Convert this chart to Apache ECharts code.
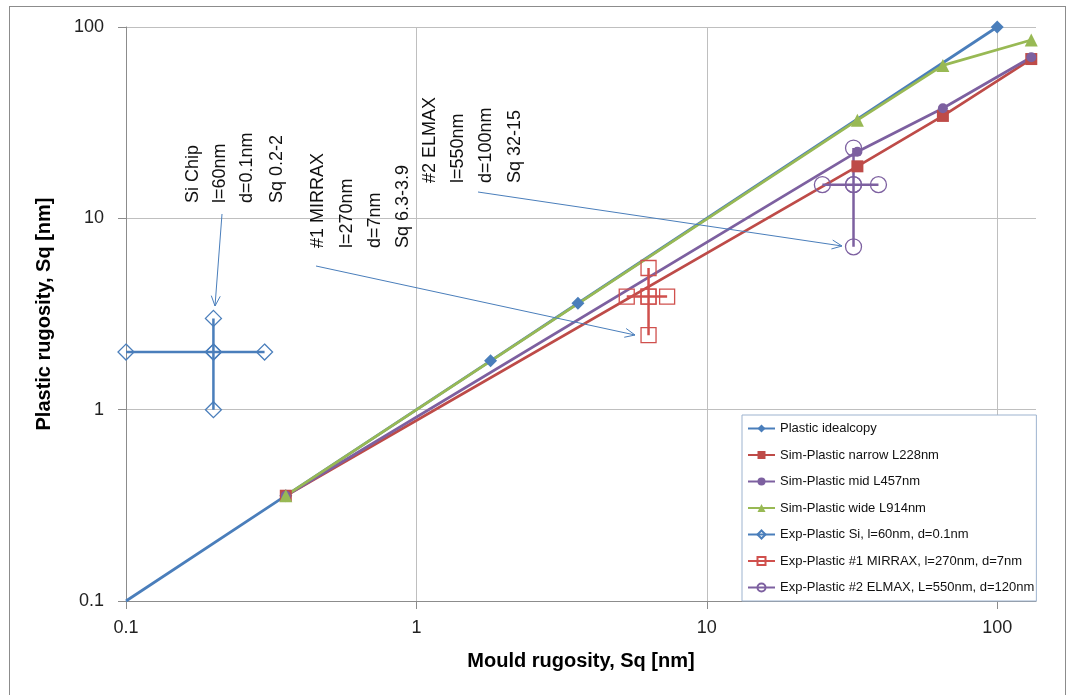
<!DOCTYPE html>
<html>
<head>
<meta charset="utf-8">
<script src="https://cdn.jsdelivr.net/npm/echarts@6/dist/echarts.min.js"></script>
<style>
	html, body { margin: 0; padding: 0; background: #fff; }
	#main { width: 1072px; height: 695px; }
	#frame { position: absolute; left: 9px; top: 6px; width: 1057px; height: 700px; border: 1px solid #8c8c8c; box-sizing: border-box; pointer-events: none; }
</style>
</head>
<body>
<div id="main"></div>
<div id="frame"></div>
<script>
	// 数据
	const idealX = [0.1, 0.355, 1.8, 3.6, 100]
	const idealY = [0.1, 0.355, 1.8, 3.6, 100]

	const simX = [0.355, 33, 65, 131]
	const narrowY = [0.355, 18.7, 34.3, 68]
	const midY = [0.355, 22.3, 37.6, 69.5]
	const wideY = [0.355, 32.6, 63, 85.5]

	// 实验点 (十字: 横向 + 纵向)
	const siHx = [0.1, 0.2, 0.3], siHy = [2, 2, 2]
	const siVx = [0.2, 0.2, 0.2], siVy = [1, 2, 3]
	const mirHx = [5.3, 6.3, 7.3], mirHy = [3.9, 3.9, 3.9]
	const mirVx = [6.3, 6.3, 6.3], mirVy = [2.45, 3.9, 5.5]
	const elmHx = [25, 32, 39], elmHy = [15, 15, 15]
	const elmVx = [32, 32, 32], elmVy = [7.1, 15, 23.3]

	const tickValues = [0.1, 1, 10, 100]

	const names = [
		'Plastic idealcopy',
		'Sim-Plastic narrow L228nm',
		'Sim-Plastic mid L457nm',
		'Sim-Plastic wide L914nm',
		'Exp-Plastic Si, l=60nm, d=0.1nm',
		'Exp-Plastic #1 MIRRAX, l=270nm, d=7nm',
		'Exp-Plastic #2 ELMAX, L=550nm, d=120nm'
	]

	const notes = [
		{ lines: ['Si Chip', 'l=60nm', 'd=0.1nm', 'Sq 0.2-2'], xs: [193, 220, 247, 277], bottom: 203 },
		{ lines: ['#1 MIRRAX', 'l=270nm', 'd=7nm', 'Sq 6.3-3.9'], xs: [318, 347, 375, 403], bottom: 248 },
		{ lines: ['#2 ELMAX', 'l=550nm', 'd=100nm', 'Sq 32-15'], xs: [430, 458, 486, 515], bottom: 183 }
	]
	const arrows = [
		[222, 214, 215, 306],
		[316, 266, 635, 335],
		[478, 192, 842, 246]
	]

	const zip = (xs, ys) => xs.map((x, i) => [x, ys[i]])

	const FONT = "'Liberation Sans', Arial, sans-serif"

	const lineSeries = (name, data, color, symbol, size) => ({
		name: name,
		type: 'line',
		data: data,
		symbol: symbol,
		symbolSize: size,
		showAllSymbol: true,
		lineStyle: { color: color, width: 2.75 },
		itemStyle: { color: color },
		emphasis: { disabled: true },
		clip: false
	})

	const expSeries = (name, data, color, symbol, size) => ({
		name: name,
		type: 'line',
		data: data,
		symbol: symbol,
		symbolSize: size,
		showAllSymbol: true,
		lineStyle: { color: color, width: 2.5 },
		itemStyle: { color: 'rgba(255,255,255,0)', borderColor: color, borderWidth: 1.3 },
		emphasis: { disabled: true },
		clip: false
	})

	const idealData = zip(idealX, idealY).map((p, i) => i === 0 ? { value: p, symbol: 'none' } : p)

	const series = [
		lineSeries(names[0], idealData, '#4a7ebb', 'diamond', 13),
		lineSeries(names[1], zip(simX, narrowY), '#be4b48', 'rect', 12),
		lineSeries(names[2], zip(simX, midY), '#7d60a0', 'circle', 10),
		lineSeries(names[3], zip(simX, wideY), '#98b954', 'triangle', 13),
		expSeries(names[4], zip(siHx, siHy), '#4a7ebb', 'diamond', 16),
		expSeries(names[4], zip(siVx, siVy), '#4a7ebb', 'diamond', 16),
		expSeries(names[5], zip(mirHx, mirHy), '#d0504d', 'rect', 15),
		expSeries(names[5], zip(mirVx, mirVy), '#d0504d', 'rect', 15),
		expSeries(names[6], zip(elmHx, elmHy), '#7d60a0', 'circle', 16),
		expSeries(names[6], zip(elmVx, elmVy), '#7d60a0', 'circle', 16)
	]

	// 注释文字和箭头
	const graphics = []
	notes.forEach(n => {
		n.lines.forEach((t, i) => {
			graphics.push({
				type: 'text',
				x: n.xs[i],
				y: n.bottom,
				rotation: Math.PI / 2,
				z: 100,
				style: { text: t, font: '18px ' + FONT, fill: '#111', align: 'left', verticalAlign: 'middle' }
			})
		})
	})
	arrows.forEach(a => {
		const [x1, y1, x2, y2] = a
		const ang = Math.atan2(y2 - y1, x2 - x1)
		const L = 11, s = 0.42
		graphics.push({
			type: 'line', z: 100,
			shape: { x1, y1, x2, y2 },
			style: { stroke: '#4a7ebb', lineWidth: 1 }
		})
		graphics.push({
			type: 'polyline', z: 100,
			shape: { points: [
				[x2 - L * Math.cos(ang - s), y2 - L * Math.sin(ang - s)],
				[x2, y2],
				[x2 - L * Math.cos(ang + s), y2 - L * Math.sin(ang + s)]
			] },
			style: { stroke: '#4a7ebb', lineWidth: 1, fill: null }
		})
	})

	const axisCommon = {
		type: 'log',
		logBase: 10,
		nameLocation: 'middle',
		nameTextStyle: { fontFamily: FONT, fontSize: 20, fontWeight: 'bold', color: '#000' },
		axisLine: { show: true, lineStyle: { color: '#8c8c8c', width: 1 } },
		axisTick: { show: true, inside: false, length: 8, lineStyle: { color: '#8c8c8c' }, customValues: tickValues },
		axisLabel: { fontFamily: FONT, fontSize: 18, color: '#222', customValues: tickValues,
			formatter: v => String(+Number(v).toPrecision(3)) },
		splitLine: { show: true, lineStyle: { color: '#bfbfbf', width: 1 } },
		minorTick: { show: false },
		minorSplitLine: { show: false }
	}

	const option = {
		animation: false,
		backgroundColor: '#fff',
		grid: { left: 126, right: 36, top: 27, bottom: 94, containLabel: false },
		xAxis: Object.assign({}, axisCommon, {
			name: 'Mould rugosity, Sq [nm]',
			nameGap: 50,
			min: 0.1,
			max: 136,
			axisLabel: Object.assign({}, axisCommon.axisLabel, { margin: 18 })
		}),
		yAxis: Object.assign({}, axisCommon, {
			name: 'Plastic rugosity, Sq [nm]',
			nameGap: 72,
			min: 0.1,
			max: 100,
			axisLabel: Object.assign({}, axisCommon.axisLabel, { margin: 22 })
		}),
		legend: {
			data: names,
			orient: 'vertical',
			left: 742,
			top: 415,
			itemWidth: 27,
			itemHeight: 10,
			itemGap: 13.5,
			padding: [7, 2, 7, 5],
			backgroundColor: '#fff',
			borderColor: '#9db3cf',
			borderWidth: 1,
			borderRadius: 0,
			textStyle: { fontFamily: FONT, fontSize: 13, color: '#111' }
		},
		graphic: graphics,
		series: series
	}

	const myChart = echarts.init(document.getElementById('main'))
	myChart.setOption(option)
</script>
</body>
</html>
